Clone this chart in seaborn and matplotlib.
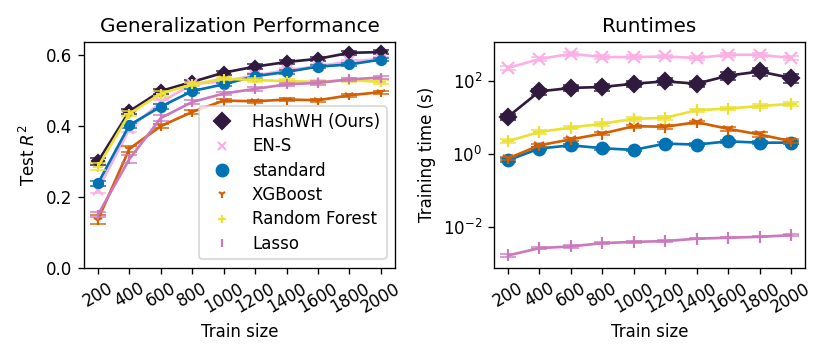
import numpy as np
import pandas as pd
import seaborn as sns
import matplotlib
matplotlib.use("Agg")
import matplotlib.pyplot as plt
from matplotlib.lines import Line2D

# Data
train_sizes = [200, 400, 600, 800, 1000, 1200, 1400, 1600, 1800, 2000]
methods = ["HashWH (Ours)", "EN-S", "standard", "XGBoost", "Random Forest", "Lasso"]

r2_hashwh = [0.300, 0.442, 0.499, 0.525, 0.551, 0.568, 0.581, 0.590, 0.607, 0.609]
r2_ens = [0.220, 0.392, 0.468, 0.518, 0.527, 0.543, 0.558, 0.569, 0.583, 0.590]
r2_standard = [0.238, 0.403, 0.455, 0.499, 0.518, 0.541, 0.553, 0.568, 0.574, 0.588]
r2_xgb = [0.136, 0.336, 0.400, 0.440, 0.472, 0.470, 0.475, 0.473, 0.487, 0.496]
r2_rf = [0.285, 0.435, 0.492, 0.518, 0.534, 0.530, 0.527, 0.525, 0.530, 0.525]
r2_lasso = [0.150, 0.307, 0.423, 0.468, 0.492, 0.505, 0.518, 0.522, 0.532, 0.537]

r2_err_hashwh = [0.010, 0.007, 0.007, 0.006, 0.006, 0.006, 0.005, 0.005, 0.005, 0.005]
r2_err_ens = [0.010, 0.008, 0.007, 0.006, 0.006, 0.006, 0.005, 0.005, 0.005, 0.005]
r2_err_standard = [0.008, 0.007, 0.006, 0.006, 0.005, 0.005, 0.005, 0.005, 0.005, 0.005]
r2_err_xgb = [0.012, 0.008, 0.006, 0.005, 0.004, 0.004, 0.004, 0.004, 0.004, 0.004]
r2_err_rf = [0.010, 0.007, 0.006, 0.005, 0.005, 0.005, 0.005, 0.005, 0.005, 0.005]
r2_err_lasso = [0.008, 0.012, 0.008, 0.006, 0.005, 0.005, 0.005, 0.005, 0.005, 0.005]

t_hashwh = [10.7, 53, 66, 70, 86, 100, 86, 143, 186, 124]
t_ens = [232, 407, 569, 462, 462, 480, 436, 535, 535, 436]
t_standard = [0.69, 1.44, 1.77, 1.47, 1.32, 1.97, 1.85, 2.27, 2.09, 2.09]
t_xgb = [0.77, 1.77, 2.57, 3.7, 5.9, 5.7, 7.6, 5.0, 3.5, 2.3]
t_rf = [2.3, 4.1, 5.4, 6.9, 9.4, 10.0, 16.2, 18.0, 21.0, 24.0]
t_lasso = [0.0017, 0.0027, 0.0030, 0.0037, 0.0040, 0.0042, 0.0049, 0.0052, 0.0055, 0.0061]

t_err_hashwh = [2.0, 10, 12, 15, 16, 20, 18, 35, 50, 35]
t_err_ens = [30, 50, 70, 50, 50, 55, 50, 60, 65, 55]
t_err_standard = [0.08, 0.15, 0.2, 0.15, 0.12, 0.2, 0.18, 0.22, 0.2, 0.2]
t_err_xgb = [0.08, 0.2, 0.3, 0.4, 0.6, 0.6, 0.8, 0.7, 0.6, 0.3]
t_err_rf = [0.3, 0.5, 0.6, 0.8, 1.0, 1.2, 1.8, 2.0, 2.5, 3.0]
t_err_lasso = [0.0002, 0.0002, 0.0002, 0.0002, 0.0002, 0.0002, 0.0002, 0.0002, 0.0002, 0.0003]

r2_values = [r2_hashwh, r2_ens, r2_standard, r2_xgb, r2_rf, r2_lasso]
r2_errors = [r2_err_hashwh, r2_err_ens, r2_err_standard, r2_err_xgb, r2_err_rf, r2_err_lasso]
t_values = [t_hashwh, t_ens, t_standard, t_xgb, t_rf, t_lasso]
t_errors = [t_err_hashwh, t_err_ens, t_err_standard, t_err_xgb, t_err_rf, t_err_lasso]

cb = sns.color_palette("colorblind")
colors = ["#301a3e", cb[6], cb[0], cb[3], cb[8], cb[4]]
markers = ["D", "x", "o", "1", "+", "|"]
legend_sizes = [7, 5, 7, 5, 5, 5]

# long-form table for seaborn
rows = []
for m, vals, errs, tv, te in zip(methods, r2_values, r2_errors, t_values, t_errors):
    for i, n in enumerate(train_sizes):
        rows.append({"method": m, "train_size": n, "r2": vals[i], "r2_err": errs[i],
                     "time": tv[i], "time_err": te[i]})
df = pd.DataFrame(rows)

DPI = 120
fig, (ax1, ax2) = plt.subplots(1, 2, figsize=(830 / DPI, 356 / DPI), dpi=DPI)
ax1.set_position([0.101, 0.248, 0.375, 0.635])
ax2.set_position([0.595, 0.248, 0.375, 0.635])


def draw(ax, ycol, ecol, ms):
    for m, c, mk in zip(methods, colors, markers):
        d = df[df["method"] == m]
        ax.errorbar(d["train_size"], d[ycol], yerr=d[ecol], fmt="none",
                    ecolor=c, elinewidth=1.2, capsize=5, alpha=0.85)
        sns.lineplot(data=d, x="train_size", y=ycol, ax=ax, color=c, marker=mk,
                     markersize=ms, markeredgecolor=c, markeredgewidth=1.3,
                     linewidth=1.6, legend=False)


draw(ax1, "r2", "r2_err", 5.5)
ax1.set_ylim(bottom=0)
ax1.set_title("Generalization Performance")
ax1.set_xlabel("Train size")
ax1.set_ylabel("Test $R^2$")

draw(ax2, "time", "time_err", 7)
ax2.set_yscale("log")
ax2.set_yticks([1e-2, 1e0, 1e2])
ax2.minorticks_off()
ax2.set_title("Runtimes")
ax2.set_xlabel("Train size")
ax2.set_ylabel("Training time (s)")

for ax in (ax1, ax2):
    ax.set_xticks(train_sizes)
    ax.set_xticklabels([str(n) for n in train_sizes], rotation=30)

handles = [Line2D([], [], linestyle="none", marker=mk, color=c, markeredgecolor=c,
                  markersize=s, markeredgewidth=1.3)
           for c, mk, s in zip(colors, markers, legend_sizes)]
ax1.legend(handles, methods, loc="lower right", labelspacing=0.38)

fig.savefig("out.png", dpi=DPI)
